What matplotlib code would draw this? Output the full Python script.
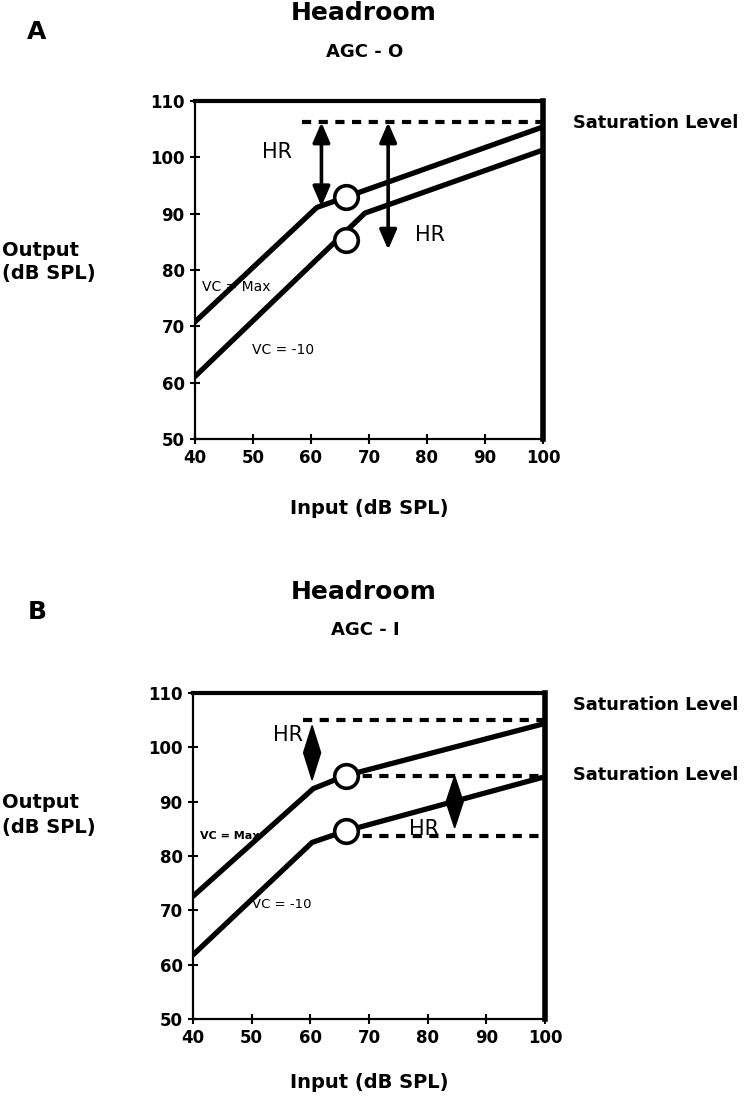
import matplotlib
matplotlib.use("Agg")
import matplotlib.pyplot as plt
from matplotlib.patches import Polygon

plt.rcParams['font.family'] = ['DejaVu Sans']

# ---------------- data ----------------
x_ticks = [40, 50, 60, 70, 80, 90, 100]
y_ticks = [50, 60, 70, 80, 90, 100, 110]

# Panel A (AGC-O)
a_max_in = [40, 61, 100]
a_max_out = [70.8, 91.1, 105.4]
a_m10_in = [40, 69.3, 100]
a_m10_out = [61.1, 90.1, 101.3]
a_knee_x = [66, 66]
a_knee_y = [93.0, 85.3]
a_sat_level = 106.2
a_sat_start = 58.4
a_hr_x = [61.8, 73.3]
a_hr_top = [106.2, 106.2]
a_hr_bottom = [91.3, 83.6]

# Panel B (AGC-I)
b_max_in = [40, 60.5, 66, 100]
b_max_out = [72.6, 92.4, 94.8, 104.4]
b_m10_in = [40, 60.3, 66, 100]
b_m10_out = [61.8, 82.5, 84.6, 94.6]
b_knee_x = [66, 66]
b_knee_y = [94.8, 84.6]
b_sat_levels = [105.0, 94.8, 83.6]
b_sat_start = [58.7, 66, 66]
b_hr_x = [60.3, 84.6]
b_hr_top = [104.0, 94.7]
b_hr_bottom = [94.0, 85.2]

W, H = 744, 1110
fig = plt.figure(figsize=(W / 100, H / 100), dpi=100)


def px(x, y):
    return x / W, 1 - y / H


def style_axes(ax):
    ax.set_xlim(40, 100)
    ax.set_ylim(50, 110)
    ax.set_xticks(x_ticks)
    ax.set_yticks(y_ticks)
    ax.tick_params(direction='inout', length=7, width=1.5, labelsize=12,
                   pad=4, colors='black')
    for lab in ax.get_xticklabels() + ax.get_yticklabels():
        lab.set_fontweight('bold')
    ax.spines['left'].set_linewidth(1.6)
    ax.spines['bottom'].set_linewidth(1.6)
    ax.spines['top'].set_linewidth(3)
    ax.spines['right'].set_linewidth(4)
    ax.set_facecolor('white')


line_kw = dict(color='black', lw=3.8, solid_capstyle='round', solid_joinstyle='round', zorder=3)
dash_kw = dict(color='black', lw=3, linestyle=(0, (2.2, 1.8)), zorder=2)
circ_kw = dict(marker='o', ms=17, mfc='white', mec='black', mew=2.6, ls='none', zorder=5)

# ---------------- Panel A ----------------
axA = fig.add_axes([195 / W, 1 - 439 / H, 348 / W, 338 / H])
style_axes(axA)
axA.plot(a_max_in, a_max_out, **line_kw)
axA.plot(a_m10_in, a_m10_out, **line_kw)
axA.plot([a_sat_start, 100], [a_sat_level, a_sat_level], **dash_kw)
axA.plot(a_knee_x, a_knee_y, **circ_kw)
for x, t, b in zip(a_hr_x, a_hr_top, a_hr_bottom):
    axA.annotate('', xy=(x, b), xytext=(x, t),
                 arrowprops=dict(arrowstyle='<|-|>,head_length=0.6,head_width=0.26',
                                 lw=2.6, color='black', mutation_scale=20,
                                 shrinkA=0, shrinkB=0), zorder=4)
axA.text(54.1, 101.0, 'HR', fontsize=15, ha='center', va='center')
axA.text(80.5, 86.2, 'HR', fontsize=15, ha='center', va='center')
axA.text(41.2, 77.0, 'VC = Max', fontsize=10, ha='left', va='center', zorder=2)
axA.text(49.9, 65.8, 'VC = -10', fontsize=10, ha='left', va='center')

# ---------------- Panel B ----------------
axB = fig.add_axes([193 / W, 1 - 1019 / H, 352 / W, 326 / H])
style_axes(axB)
axB.plot(b_max_in, b_max_out, **line_kw)
axB.plot(b_m10_in, b_m10_out, **line_kw)
for lev, xs in zip(b_sat_levels, b_sat_start):
    axB.plot([xs, 100], [lev, lev], **dash_kw)
axB.plot(b_knee_x, b_knee_y, **circ_kw)
for x, t, b in zip(b_hr_x, b_hr_top, b_hr_bottom):
    mid = (t + b) / 2
    axB.add_patch(Polygon([(x, t), (x + 1.45, mid), (x, b), (x - 1.45, mid)],
                          closed=True, facecolor='black', edgecolor='black',
                          lw=1, zorder=4))
axB.text(56.2, 102.2, 'HR', fontsize=15, ha='center', va='center')
axB.text(79.4, 84.9, 'HR', fontsize=15, ha='center', va='center')
axB.text(41.2, 83.6, 'VC = Max', fontsize=8, fontweight='bold', ha='left', va='center', zorder=2)
axB.text(50.0, 71.0, 'VC = -10', fontsize=9.5, ha='left', va='center')

# ---------------- figure texts ----------------
bold = dict(fontweight='bold', color='black')
fig.text(*px(37, 32), 'A', fontsize=18, ha='center', va='center', **bold)
fig.text(*px(37, 612), 'B', fontsize=18, ha='center', va='center', **bold)
fig.text(*px(364, 13), 'Headroom', fontsize=18, ha='center', va='center', **bold)
fig.text(*px(364, 592), 'Headroom', fontsize=18, ha='center', va='center', **bold)
fig.text(*px(365, 52), 'AGC - O', fontsize=13, ha='center', va='center', **bold)
fig.text(*px(365, 630), 'AGC - I', fontsize=13, ha='center', va='center', **bold)

for y0 in (250, 803):
    fig.text(*px(2, y0), 'Output', fontsize=14, ha='left', va='center', **bold)
    fig.text(*px(2, y0 + 24), '(dB SPL)', fontsize=14, ha='left', va='center', **bold)

fig.text(*px(369, 508), 'Input (dB SPL)', fontsize=14, ha='center', va='center', **bold)
fig.text(*px(369, 1083), 'Input (dB SPL)', fontsize=14, ha='center', va='center', **bold)

for y0 in (123, 705, 775):
    fig.text(*px(573, y0), 'Saturation Level', fontsize=12.8, ha='left', va='center', **bold)

fig.savefig('out.png', dpi=100, facecolor='white')
